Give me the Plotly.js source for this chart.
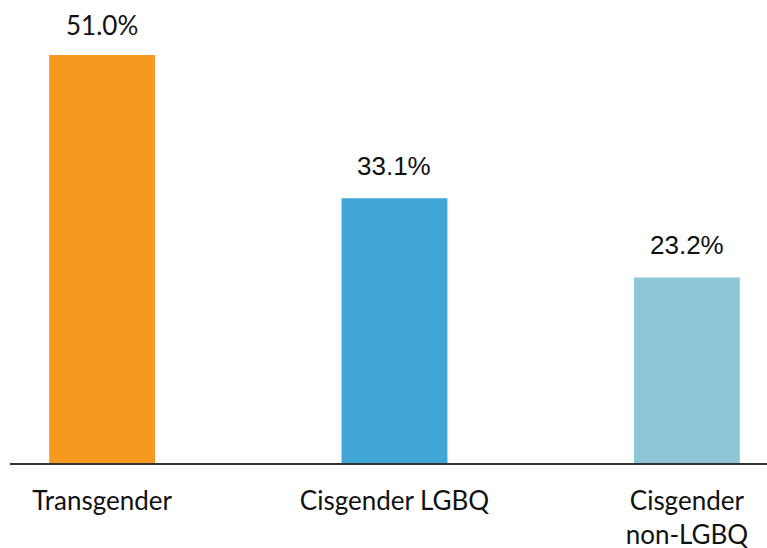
<!DOCTYPE html>
<html><head><meta charset="utf-8">
<script src="https://cdn.plot.ly/plotly-3.0.1.min.js"></script>
<style>html,body{margin:0;padding:0;background:#fff;}#chart{width:767px;height:548px;}</style>
</head><body><div id="chart"></div>
<script>
const categories = ["Transgender", "Cisgender LGBQ", "Cisgender<br>non-LGBQ"];
const values = [51.0, 33.1, 23.2];
const valueLabels = ["51.0%", "33.1%", "23.2%"];
const colors = ["#F7991E", "#3FA6D5", "#8DC7D5"];
const labelFonts = ["Lato", "Liberation Sans", "Liberation Sans"];

const trace = {
  type: "bar",
  x: categories,
  y: values,
  width: 0.362,
  marker: {color: colors},
  hoverinfo: "none"
};

const annotations = categories.map((c, i) => ({
  x: c, y: values[i], xref: "x", yref: "y",
  text: valueLabels[i], showarrow: false,
  yanchor: "bottom", yshift: i === 0 ? 12 : 15,
  font: {family: labelFonts[i], size: 26, color: "#111"}
}));

const layout = {
  width: 767, height: 548,
  margin: {l: 10, r: 0, t: 0, b: 85},
  paper_bgcolor: "#fff", plot_bgcolor: "#fff",
  showlegend: false,
  xaxis: {
    type: "category",
    range: [-0.315, 2.274],
    showline: true, linecolor: "#333", linewidth: 1.5,
    ticks: "", showgrid: false, zeroline: false,
    ticklabelstandoff: 14,
    tickfont: {family: "Lato", size: 26, color: "#111"}
  },
  yaxis: {
    range: [0, 57.875],
    visible: false, showgrid: false, zeroline: false
  },
  annotations: annotations
};

Plotly.newPlot("chart", [trace], layout, {displayModeBar: false, staticPlot: true});
</script></body></html>
